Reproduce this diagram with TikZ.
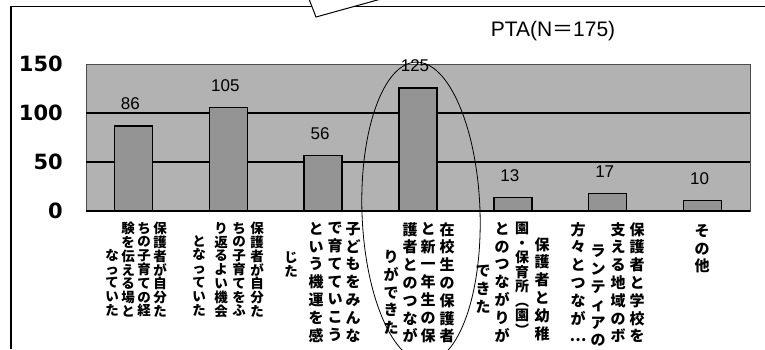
\documentclass[tikz,border=0pt]{standalone}
\usepackage{fontspec}
\setmainfont{Liberation Sans}
\newfontfamily\jpfont{Noto Sans CJK JP}
\newfontfamily\numfont{DejaVu Sans}
\usetikzlibrary{positioning, shapes.geometric}
\tikzstyle{outline} = [line width=1.6pt]
\tikzstyle{plotbg} = [fill=black!30, draw=black!70, line width=0.6pt]
\tikzstyle{gridline} = [line width=1.2pt]
\tikzstyle{bar} = [fill=black!42, draw=black, line width=1.4pt, minimum width=38pt, inner sep=0pt, anchor=south]
\tikzstyle{valtxt} = [font=\fontsize{17}{17}\selectfont, inner sep=0pt]
\tikzstyle{ytick} = [anchor=east, inner sep=0pt, font=\numfont\bfseries\fontsize{21}{21}\selectfont]
\tikzstyle{colA} = [anchor=north, inner sep=0pt, align=center, font=\jpfont\bfseries\fontsize{13.5}{13.8}\selectfont]
\tikzstyle{colB} = [anchor=north, inner sep=0pt, align=center, font=\jpfont\bfseries\fontsize{15}{17.8}\selectfont]

\begin{document}
\begin{tikzpicture}[x=1pt, y=-1pt]
  \useasboundingbox (0,0) rectangle (765,349);
  \clip (0,0) rectangle (765,349);

  % frame and callout
  \draw[outline] (11,349) -- (11,6.5) -- (765,6.5);
  \draw[fill=white, line width=1pt] (309,-1) -- (316,17) -- (381,-1);
  \node[font=\fontsize{21}{21}\selectfont] (title) at (553,31) {PTA(N{\jpfont ＝}175)};

  % plot area
  \draw[plotbg] (86,64) rectangle (750,211);
  \draw[gridline] (86,162) -- (750,162);
  \draw[gridline] (86,113) -- (750,113);
  \draw[line width=1.6pt] (86,211) -- (750,211);
  \foreach \t in {0,50,100,150}
    \node[ytick] (y\t) at (63,{211-0.98*\t}) {\t};

  % bars and values
  \foreach \val [count=\i] in {86,105,56,125,13,17,10} {
    \pgfmathsetmacro\xc{86+94.86*(\i-0.5)}
    \node[bar, minimum height={0.98*\val pt}] (bar\i) at (\xc,211) {};
    \node[valtxt, above=15pt of bar\i, xshift=-3pt] (val\i) {\val};
  }

  % ring round bar 4
  \node[draw, ellipse, line width=0.8pt, minimum width=118pt, minimum height=300pt, rotate=2] (ring) at (421,212) {};

  % labels 1
  \node[colA] (l1a) at (160,222) {保\\護\\者\\が\\自\\分\\た};
  \node[colA] (l1b) at (144,222) {ち\\の\\子\\育\\て\\の\\経};
  \node[colA] (l1c) at (128,222) {験\\を\\伝\\え\\る\\場\\と};
  \node[colA] (l1d) at (112,249) {な\\っ\\て\\い\\た};
  % labels 2
  \node[colA] (l2a) at (257,222) {保\\護\\者\\が\\自\\分\\た};
  \node[colA] (l2b) at (239,222) {ち\\の\\子\\育\\て\\を\\ふ};
  \node[colA] (l2c) at (221,222) {り\\返\\る\\よ\\い\\機\\会};
  \node[colA] (l2d) at (199,235) {と\\な\\っ\\て\\い\\た};
  % labels 3
  \node[colB] (l3a) at (353,222) {子\\ど\\も\\を\\み\\ん\\な};
  \node[colB] (l3b) at (335,222) {で\\育\\て\\て\\い\\こ\\う};
  \node[colB] (l3c) at (316,222) {と\\い\\う\\機\\運\\を\\感};
  \node[colA] (l3d) at (291,252) {じ\\た};
  % labels 4
  \node[colB] (l4a) at (447,222) {在\\校\\生\\の\\保\\護\\者};
  \node[colB] (l4b) at (428,222) {と\\新\\一\\年\\生\\の\\保};
  \node[colB] (l4c) at (410,222) {護\\者\\と\\の\\つ\\な\\が};
  \node[colB] (l4d) at (391,250) {り\\が\\で\\き\\た};
  % labels 5
  \node[colB] (l5a) at (542,237) {保\\護\\者\\と\\幼\\稚};
  \node[colB, font=\jpfont\bfseries\fontsize{14}{14.5}\selectfont] (l5b) at (522,222) {園\\・\\保\\育\\所\\︵\\園\\︶};
  \node[colB] (l5c) at (502,222) {と\\の\\つ\\な\\が\\り\\が};
  \node[colB] (l5d) at (483,265) {で\\き\\た};
  % labels 6
  \node[colB] (l6a) at (637,222) {保\\護\\者\\と\\学\\校\\を};
  \node[colB] (l6b) at (618,222) {支\\え\\る\\地\\域\\の\\ボ};
  \node[colB] (l6c) at (598,245) {ラ\\ン\\テ\\ィ\\ア\\の};
  \node[colB] (l6d) at (578,222) {方\\々\\と\\つ\\な\\が\\…};
  % labels 7
  \node[colB] (l7a) at (702,224) {そ\\の\\他};
\end{tikzpicture}
\end{document}
